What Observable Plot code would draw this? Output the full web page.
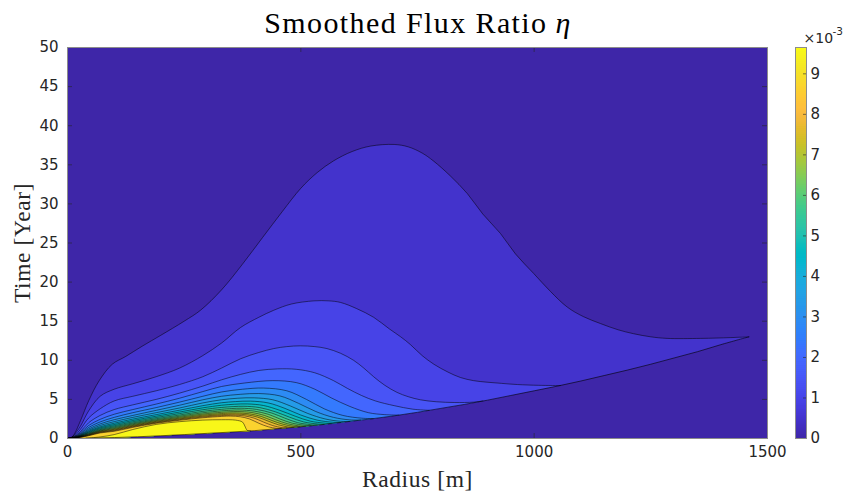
<!DOCTYPE html>
<html><head><meta charset="utf-8">
<script src="https://cdn.jsdelivr.net/npm/d3@7"></script>
<script src="https://cdn.jsdelivr.net/npm/@observablehq/plot@0.6"></script>
<style>body{margin:0;background:#fff;}#wrap{position:relative;width:856px;height:496px;overflow:hidden;}</style>
</head><body><div id="wrap"></div>
<script>
// ---- data (values in units of 1e-3; radius in m, time in years) ----
const radiusTicks = [0, 500, 1000, 1500];
const timeTicks = [0, 5, 10, 15, 20, 25, 30, 35, 40, 45, 50];
const colorbarTicks = [0, 1, 2, 3, 4, 5, 6, 7, 8, 9];
const colorMax = 9.65;
const levelValues = [0.48, 0.96, 1.44, 1.92, 2.40, 2.88, 3.36, 3.84, 4.32, 4.80, 5.28, 5.76, 6.24, 6.72, 7.20, 7.68, 8.16, 8.64, 9.55];

// arrival front (lower edge of every filled region): [radius, time]
const front = [[0,0],[50,0.05],[100,0.12],[150,0.22],[200,0.35],[250,0.5],[300,0.66],[350,0.82],[400,1.0],[450,1.25],[500,1.5],[550,1.8],[600,2.15],[650,2.5],[700,2.9],[750,3.35],[800,3.85],[850,4.35],[900,4.9],[950,5.5],[1000,6.1],[1050,6.7],[1100,7.35],[1150,8.05],[1200,8.75],[1250,9.5],[1300,10.3],[1350,11.1],[1400,12.0],[1460,13.0]];

// upper edge of each contour level: [radius, time]
const level1 = [[0,0],[8,0.1],[15,0.6],[28,2.3],[46,4.9],[68,7.4],[96,9.5],[125,10.5],[160,11.8],[200,13.2],[250,15.0],[285,16.4],[330,19.0],[375,22.3],[418,25.7],[460,29.0],[500,32.0],[535,34.0],[570,35.5],[610,36.7],[650,37.4],[700,37.6],[730,37.3],[760,36.5],[784,35.5],[820,33.6],[857,31.3],[890,28.7],[928,26.2],[960,23.6],[999,21.1],[1035,18.8],[1071,16.8],[1105,15.6],[1142,14.7],[1180,13.9],[1213,13.4],[1250,13.0],[1285,12.8],[1357,12.8],[1420,12.9],[1460,13.0]];
const level2 = [[0,0],[8,0.08],[15,0.5],[28,1.6],[45,3.5],[70,5.4],[100,6.3],[140,7.0],[190,7.9],[240,9.0],[290,10.6],[330,12.2],[371,14.2],[410,15.5],[442,16.4],[480,17.2],[528,17.6],[560,17.6],[585,17.4],[620,16.6],[656,15.5],[690,14.0],[714,13.0],[735,12.0],[760,10.6],[785,9.5],[815,8.5],[842,7.8],[870,7.4],[899,7.2],[930,7.05],[964,6.9],[1010,6.8],[1056,6.77]];
const level3 = [[0,0],[15,0.35],[28,1.2],[45,2.6],[70,3.8],[100,4.8],[140,5.4],[190,6.1],[240,6.9],[290,7.9],[330,9.0],[371,10.2],[410,11.0],[442,11.5],[470,11.75],[499,11.85],[530,11.75],[556,11.5],[585,10.9],[613,10.0],[635,9.0],[656,7.9],[680,6.8],[706,5.9],[730,5.35],[756,4.95],[790,4.7],[830,4.6],[870,4.65],[890,4.8]];
const level4 = [[0,0],[15,0.28],[28,0.9],[45,2.0],[70,2.95],[100,3.7],[140,4.3],[190,5.0],[240,5.8],[290,6.7],[330,7.5],[371,8.2],[410,8.7],[450,8.9],[490,8.85],[530,8.4],[570,7.4],[600,6.4],[630,5.5],[660,4.8],[700,4.2],[740,3.75],[775,3.6]];
const level5 = [[0,0],[15,0.23],[28,0.74],[45,1.65],[70,2.45],[100,3.1],[140,3.7],[190,4.4],[240,5.15],[290,6.0],[330,6.65],[380,7.1],[440,7.4],[490,7.15],[530,6.3],[565,5.2],[605,4.1],[645,3.3],[680,3.05],[710,2.99]];
const level6 = [[0,0],[15,0.2],[28,0.63],[45,1.4],[70,2.12],[100,2.7],[140,3.3],[190,3.95],[240,4.65],[290,5.4],[330,5.95],[375,6.3],[420,6.45],[470,6.1],[512,5.0],[550,3.8],[590,2.95],[630,2.6],[655,2.54]];
const level7 = [[0,0],[15,0.17],[28,0.54],[45,1.2],[70,1.87],[100,2.4],[140,2.95],[190,3.6],[240,4.25],[290,4.95],[330,5.4],[370,5.65],[410,5.75],[455,5.45],[495,4.5],[532,3.45],[570,2.7],[605,2.38],[628,2.36]];
const level8 = [[0,0],[15,0.15],[28,0.47],[45,1.05],[70,1.67],[100,2.15],[140,2.7],[190,3.3],[240,3.9],[290,4.55],[330,4.95],[365,5.15],[400,5.2],[440,4.95],[478,4.15],[515,3.2],[552,2.5],[585,2.2],[605,2.18]];
const level9 = [[0,0],[15,0.13],[28,0.42],[45,0.93],[70,1.5],[100,1.95],[140,2.48],[190,3.05],[240,3.62],[290,4.2],[330,4.57],[360,4.72],[392,4.78],[430,4.55],[466,3.85],[500,3.0],[535,2.35],[568,2.08],[585,2.04]];
const level10 = [[0,0],[15,0.12],[28,0.37],[45,0.83],[70,1.37],[100,1.78],[140,2.3],[190,2.85],[240,3.38],[290,3.92],[330,4.25],[358,4.38],[385,4.42],[420,4.22],[455,3.6],[488,2.85],[520,2.22],[550,1.97],[565,1.91]];
const level11 = [[0,0],[15,0.1],[28,0.33],[45,0.74],[70,1.25],[100,1.63],[140,2.14],[190,2.68],[240,3.18],[290,3.68],[330,3.97],[355,4.08],[378,4.12],[412,3.95],[446,3.4],[476,2.72],[506,2.12],[535,1.86],[550,1.8]];
const level12 = [[0,0],[15,0.09],[28,0.3],[45,0.66],[70,1.14],[100,1.5],[140,2.0],[190,2.53],[240,3.0],[290,3.47],[330,3.73],[352,3.83],[372,3.87],[405,3.72],[438,3.25],[465,2.62],[493,2.03],[520,1.78],[535,1.71]];
const level13 = [[0,0],[15,0.08],[28,0.27],[45,0.59],[70,1.05],[100,1.38],[140,1.88],[190,2.4],[240,2.85],[290,3.29],[330,3.53],[350,3.61],[368,3.65],[400,3.5],[430,3.1],[455,2.5],[482,1.95],[507,1.7],[522,1.63]];
const level14 = [[0,0],[15,0.07],[28,0.24],[45,0.53],[70,0.97],[100,1.27],[140,1.77],[190,2.29],[240,2.72],[290,3.13],[330,3.35],[348,3.42],[365,3.45],[395,3.32],[422,2.95],[446,2.4],[472,1.88],[495,1.62],[510,1.56]];
const level15 = [[0,0],[15,0.07],[28,0.22],[45,0.48],[70,0.9],[100,1.17],[140,1.67],[190,2.19],[240,2.6],[290,2.99],[330,3.19],[346,3.25],[362,3.27],[390,3.15],[415,2.82],[438,2.3],[462,1.82],[484,1.55],[498,1.49]];
const level16 = [[0,0],[15,0.06],[28,0.19],[45,0.43],[70,0.83],[100,1.08],[140,1.58],[190,2.1],[240,2.5],[290,2.86],[330,3.05],[345,3.1],[360,3.12],[385,3.02],[408,2.72],[430,2.22],[452,1.75],[472,1.48],[485,1.42]];
const level17 = [[0,0],[15,0.05],[28,0.18],[45,0.39],[70,0.77],[100,1.0],[140,1.5],[190,2.02],[240,2.41],[290,2.75],[330,2.93],[343,2.96],[355,2.98],[380,2.88],[400,2.6],[420,2.1],[440,1.65],[460,1.38],[470,1.35]];
const level18 = [[0,0],[15,0.05],[28,0.16],[45,0.35],[70,0.71],[100,0.92],[140,1.42],[190,1.95],[240,2.33],[290,2.65],[330,2.82],[350,2.86],[370,2.78],[390,2.5],[410,1.95],[430,1.5],[448,1.3],[458,1.29]];
const level19 = [[40,0.04],[70,0.2],[100,0.5],[140,1.15],[190,1.8],[240,2.15],[290,2.35],[330,2.4],[360,2.35],[375,2.1],[380,1.6],[385,1.05],[392,0.97]];
const contourLevels = [level1, level2, level3, level4, level5, level6, level7, level8, level9, level10, level11, level12, level13, level14, level15, level16, level17, level18, level19];

// MATLAB parula colormap
const parula = ["#3e26a8","#402ab4","#422ec0","#4332cb","#4537d5","#463cde","#4741e5","#4747eb","#484df0","#4852f4","#4758f8","#465efb","#4563fd","#4269fe","#3e6fff","#3875fe","#327cfc","#2f81fa","#2e87f7","#2d8cf3","#2b91ef","#2796eb","#259be8","#23a0e5","#20a5e3","#1ca9df","#18addb","#12b1d6","#08b5d0","#01b8ca","#02bac3","#0bbdbd","#19bfb6","#24c1ae","#2cc4a7","#31c69f","#37c897","#3fca8e","#4acb84","#57cc7a","#64cd6f","#72cd64","#81cc59","#8fcb4e","#9dc943","#abc739","#b9c431","#c5c22a","#d1bf27","#dcbd29","#e6bb2d","#f0ba36","#f8ba3d","#febe3c","#fec338","#fec934","#fccf30","#fad62d","#f7dc2a","#f5e327","#f5e924","#f6ef20","#f7f51b","#f9fb15"];

// ---- build tables ----
const polys = [];
contourLevels.forEach((upper, i) => {
  const r0 = upper[0][0], r1 = upper[upper.length - 1][0];
  const lower = front.filter(([r]) => r > r0 && r < r1).reverse();
  for (const [r, t] of upper.concat(lower)) polys.push({level: i, value: levelValues[i], r, t});
});
const uppers = contourLevels.flatMap((u, i) => u.map(([r, t]) => ({level: i, r, t})));

const W = 856, H = 496, mL = 67, mR = 89, mT = 47, mB = 58;
const tickPx = 5;
const rTick = tickPx * 1500 / (W - mL - mR);
const tTick = tickPx * 50 / (H - mT - mB);
const colorScale = {type: "linear", domain: parula.map((_, i) => i / (parula.length - 1) * colorMax), range: parula, clamp: true};
const axisColor = "#262626";
const plain = d => String(d);

const main = Plot.plot({
  width: W, height: H, marginLeft: mL, marginRight: mR, marginTop: mT, marginBottom: mB,
  style: {fontFamily: "DejaVu Sans", color: axisColor, background: "#fff", overflow: "visible"},
  x: {domain: [0, 1500]},
  y: {domain: [0, 50]},
  color: colorScale,
  marks: [
    Plot.rect([{v: 0}], {x1: 0, x2: 1500, y1: 0, y2: 50, fill: "v"}),
    Plot.line(polys, {x: "r", y: "t", z: "level", fill: "value", stroke: "none", curve: "catmull-rom"}),
    Plot.line(uppers, {x: "r", y: "t", z: "level", stroke: "#000", strokeWidth: 0.5, curve: "catmull-rom"}),
    Plot.line(front, {x: d => d[0], y: d => d[1], stroke: "#000", strokeWidth: 0.6, curve: "catmull-rom"}),
    Plot.ruleY(timeTicks, {x1: 0, x2: rTick, stroke: axisColor, strokeWidth: 0.6}),
    Plot.ruleY(timeTicks, {x1: 1500 - rTick, x2: 1500, stroke: axisColor, strokeWidth: 0.6}),
    Plot.ruleX(radiusTicks, {y1: 0, y2: tTick, stroke: axisColor, strokeWidth: 0.6}),
    Plot.ruleX(radiusTicks, {y1: 50 - tTick, y2: 50, stroke: axisColor, strokeWidth: 0.6}),
    Plot.frame({stroke: "#8c8c8c", strokeWidth: 1}),
    Plot.axisX({ticks: radiusTicks, tickFormat: plain, tickSize: 0, tickPadding: 8, fontSize: 15, label: null}),
    Plot.axisY({ticks: timeTicks, tickFormat: plain, tickSize: 0, tickPadding: 9, fontSize: 15, label: null}),
    Plot.text(["Smoothed Flux Ratio"], {frameAnchor: "top-left", dx: 480, dy: -15, textAnchor: "end", lineAnchor: "bottom", fontSize: 30, fontFamily: "Liberation Serif", fill: "#000"}),
    Plot.text(["η"], {frameAnchor: "top-left", dx: 488, dy: -15, textAnchor: "start", lineAnchor: "bottom", fontSize: 30, fontStyle: "italic", fontFamily: "Liberation Serif", fill: "#000"}),
    Plot.text(["Radius [m]"], {frameAnchor: "bottom", dy: 48, textAnchor: "middle", lineAnchor: "bottom", fontSize: 23.5, fontFamily: "Liberation Serif", fill: axisColor}),
    Plot.text(["Time [Year]"], {frameAnchor: "left", dx: -38, rotate: -90, textAnchor: "middle", lineAnchor: "bottom", fontSize: 23.5, fontFamily: "Liberation Serif", fill: axisColor})
  ]
});

// colorbar
const strips = d3.range(0, Math.ceil(colorMax / 0.05)).map(i => ({y1: i * 0.05, y2: Math.min(colorMax, i * 0.05 + 0.08), v: i * 0.05 + 0.025}));
const cbW = 70, cbLeft = 786, barPx = 11;
const bar = Plot.plot({
  width: cbW, height: H, marginLeft: 9, marginRight: cbW - 9 - barPx, marginTop: mT, marginBottom: mB,
  style: {fontFamily: "DejaVu Sans", color: axisColor, background: "transparent", overflow: "visible"},
  x: {domain: [0, 1], axis: null},
  y: {domain: [0, colorMax]},
  color: colorScale,
  marks: [
    Plot.rect(strips, {x1: 0, x2: 1, y1: "y1", y2: "y2", fill: "v"}),
    Plot.ruleY(colorbarTicks, {x1: 1 - 3 / barPx, x2: 1, stroke: axisColor, strokeWidth: 0.6}),
    Plot.frame({stroke: "#8c8c8c", strokeWidth: 1}),
    Plot.axisY({anchor: "right", ticks: colorbarTicks, tickSize: 0, tickPadding: 4, fontSize: 15, label: null, tickFormat: plain}),
    Plot.text(["×10"], {frameAnchor: "top-left", dx: 8, dy: -5, textAnchor: "start", lineAnchor: "bottom", fontSize: 14, fill: axisColor}),
    Plot.text(["-3"], {frameAnchor: "top-left", dx: 37, dy: -13, textAnchor: "start", lineAnchor: "bottom", fontSize: 10.5, fill: axisColor})
  ]
});

const wrap = document.getElementById("wrap");
wrap.appendChild(main);
bar.style.position = "absolute";
bar.style.left = cbLeft + "px";
bar.style.top = "0px";
wrap.appendChild(bar);
d3.select(main).selectAll('g[font-family="Liberation Serif"]').attr("letter-spacing", function() {
  return this.getAttribute("font-size") === "30" ? "1.4px" : "0.6px";
});
</script></body></html>
